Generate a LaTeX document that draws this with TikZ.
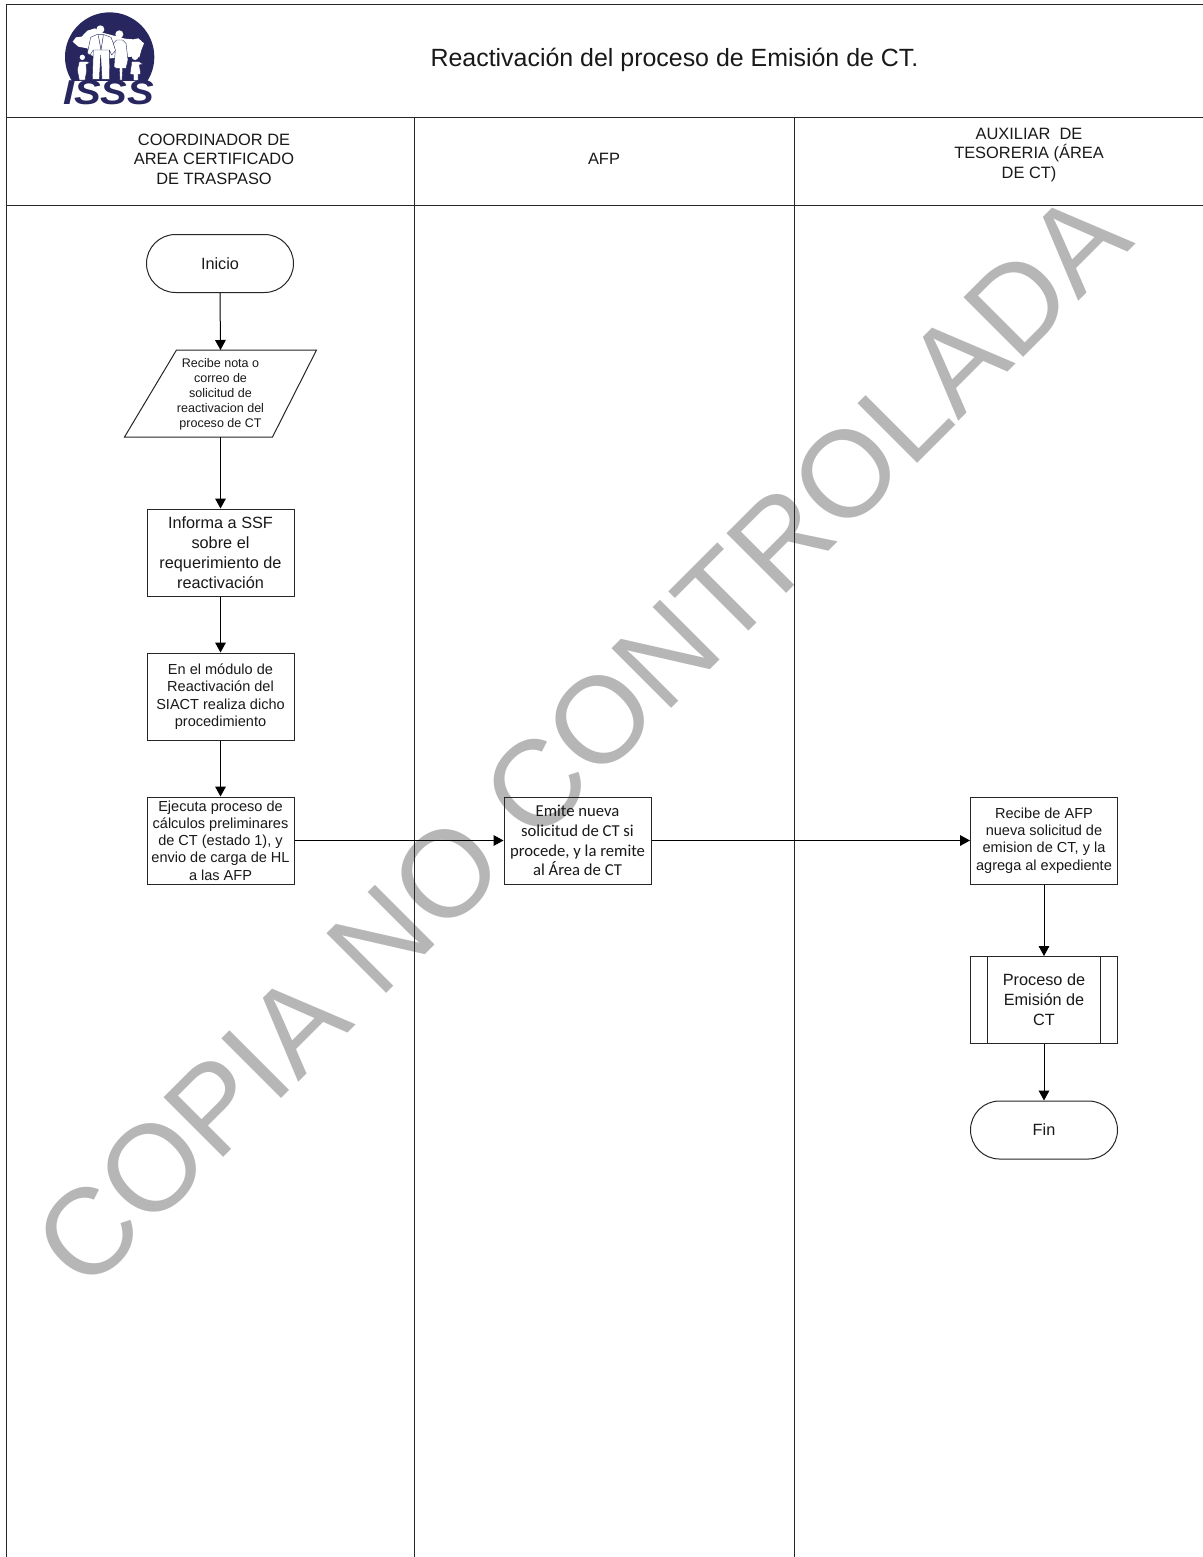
\documentclass[tikz,border=0pt]{standalone}
\usepackage{fontspec}
\setmainfont{Liberation Sans}
\newfontfamily\calibrifont{Carlito}
\usetikzlibrary{arrows.meta,shapes.misc}
\definecolor{navy}{HTML}{27265F}
\definecolor{wmark}{HTML}{B6B6B6}
\newcommand{\pxfont}[2]{\fontsize{#1}{#2}\selectfont}
\tikzset{
  px/.style={x=0.75pt,y=-0.75pt},
  frameline/.style={draw=black!85,line width=0.75pt},
  flowbox/.style={draw=black!85,line width=0.75pt,minimum width=110.25pt,minimum height=65.25pt,inner sep=0pt,align=center,text=black!90},
  term/.style={flowbox,rounded rectangle,minimum height=43.5pt},
  link/.style={draw=black,line width=0.75pt,-{Triangle[length=7.5pt,width=8pt]}},
  lanehead/.style={align=center,text=black!90,inner sep=0pt,font=\pxfont{12.3}{14.6}},
  big/.style={font=\pxfont{12.2}{15}},
  mid/.style={font=\pxfont{10.9}{13.1}},
  midb/.style={font=\pxfont{10.9}{12.9}},
  small/.style={font=\pxfont{9.4}{11.2}},
  cal/.style={font=\calibrifont\pxfont{12.5}{14.8}},
  fig/.style={fill=white,draw=navy,line width=0.3pt,line join=round},
  figline/.style={draw=navy,line width=0.35pt}
}
\begin{document}
\begin{tikzpicture}[px]
\useasboundingbox (0,0) rectangle (1203,1557);
\fill[white] (0,0) rectangle (1203,1557);
% watermark
\node[text=wmark,rotate=45,inner sep=0pt,font=\pxfont{92}{100}] (wm) at (581.5,739) {COPIA NO CONTROLADA};
% frame
\draw[frameline] (6,1557) -- (6,4.5) -- (1203,4.5);
\draw[frameline] (6,117) -- (1203,117);
\draw[frameline] (6,205) -- (1203,205);
\draw[frameline] (414,117) -- (414,1557);
\draw[frameline] (794.5,117) -- (794.5,1557);
% logo
\begin{scope}[x=0.25pt,y=-0.25pt]
\fill[navy] (329,171) circle (33.5pt);
% map
\fill[white] (218,125) -- (228,112) -- (245,110) -- (262,92) -- (285,85) -- (300,96) -- (345,108) -- (375,116) -- (400,118) -- (415,115) -- (432,130) -- (424,150) -- (418,172) -- (395,170) -- (375,172) -- (330,175) -- (285,170) -- (272,165) -- (262,145) -- (235,140) -- cycle;
% man
\fill[fig] (272,112) -- (290,104) -- (312,104) -- (333,112) -- (348,150) -- (335,165) -- (328,150) -- (329,238) -- (306,238) -- (302,165) -- (298,238) -- (277,238) -- (280,150) -- (270,165) -- (262,160) -- cycle;
\fill[white] (301,88) circle (3pt);
\draw[figline] (282,150) -- (326,150) (295,106) -- (303,150) (310,106) -- (303,150);
% woman
\fill[white] (358,103) circle (3pt);
\fill[fig] (350,120) -- (368,120) -- (378,130) -- (384,180) -- (378,205) -- (368,205) -- (366,240) -- (360,240) -- (358,205) -- (348,205) -- (342,200) -- (346,150) -- (340,130) -- cycle;
% left kid
\fill[white] (247,172) circle (2pt);
\fill[fig] (238,184) -- (258,184) -- (270,188) -- (258,194) -- (260,212) -- (255,240) -- (238,240) -- (232,210) -- cycle;
% right kid
\fill[white] (405,170) circle (2.5pt);
\fill[fig] (394,184) -- (416,184) -- (428,192) -- (418,195) -- (422,222) -- (414,224) -- (414,242) -- (400,242) -- (400,224) -- (390,222) -- (394,195) -- cycle;
\fill[white] (150,243) rectangle (500,320);
\node[text=navy,inner sep=0pt,font=\bfseries\itshape\pxfont{24}{24},xscale=1.25,yscale=1.08] (logo) at (326,278) {ISSS};
\end{scope}
% titles
\node[text=black!90,inner sep=0pt,font=\pxfont{18.7}{22}] (title) at (674.5,60) {Reactivación del proceso de Emisión de CT.};
\node[lanehead] (h1) at (214,159) {COORDINADOR DE\\AREA CERTIFICADO\\DE TRASPASO};
\node[lanehead] (h2) at (604,159) {AFP};
\node[lanehead] (h3) at (1029,155) {AUXILIAR\ \ DE\\TESORERIA (ÁREA\\DE CT)};
% nodes
\node[term,big] (inicio) at (220,263.5) {Inicio};
\node[flowbox,draw=none,small] (rec) at (220.5,394.5) {Recibe nota o\\correo de\\solicitud de\\reactivacion del\\proceso de CT};
\coordinate (recN) at (rec.north |- 0,350);
\coordinate (recS) at (rec.south |- 0,437);
\draw[draw=black!85,line width=0.75pt] ([xshift=-33pt]recN) -- ([xshift=72pt]recN) -- ([xshift=39pt]recS) -- ([xshift=-72pt]recS) -- cycle;
\node[flowbox,big] (info) at (220.5,552.5) {Informa a SSF\\sobre el\\requerimiento de\\reactivación};
\node[flowbox,mid] (modulo) at (220.5,696.5) {En el módulo de\\Reactivación del\\SIACT realiza dicho\\procedimiento};
\node[flowbox,midb] (ejec) at (220.5,840.5) {Ejecuta proceso de\\cálculos preliminares\\de CT (estado 1), y\\envio de carga de HL\\a las AFP};
\node[flowbox,cal] (emite) at (577.5,840.5) {Emite nueva\\solicitud de CT si\\procede, y la remite\\al Área de CT};
\node[flowbox,midb] (recibe) at (1044,840.5) {Recibe de AFP\\nueva solicitud de\\emision de CT, y la\\agrega al expediente};
\node[flowbox,big] (proc) at (1044,1000) {Proceso de\\Emisión de\\CT};
\draw[draw=black!85,line width=0.75pt] ([xshift=12.75pt]proc.north west) -- ([xshift=12.75pt]proc.south west);
\draw[draw=black!85,line width=0.75pt] ([xshift=-13.5pt]proc.north east) -- ([xshift=-13.5pt]proc.south east);
\node[term,big] (fin) at (1044,1130) {Fin};
% connectors
\draw[link] (inicio.south) -- (recN);
\draw[link] (recS) -- (info.north);
\draw[link] (info.south) -- (modulo.north);
\draw[link] (modulo.south) -- (ejec.north);
\draw[link] (ejec.east) -- (emite.west);
\draw[link] (emite.east) -- (recibe.west);
\draw[link] (recibe.south) -- (proc.north);
\draw[link] (proc.south) -- (fin.north);
\end{tikzpicture}
\end{document}
